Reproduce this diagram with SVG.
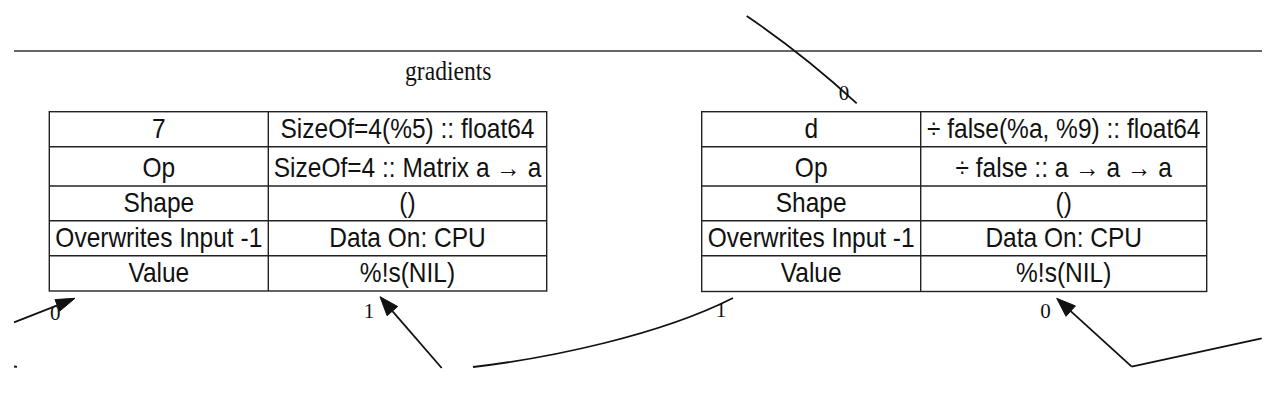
<svg xmlns="http://www.w3.org/2000/svg" width="1285" height="402" viewBox="0 0 1285 402">
  <defs>
    <style>
      .cell { fill: #ffffff; stroke: #222222; stroke-width: 1.4; }
      .sep { stroke: #222222; stroke-width: 1.4; }
      .t { font-family: "Liberation Sans", Arial, sans-serif; font-size: 24.5px; fill: #111111; text-anchor: middle; }
      .lbl { font-family: "Liberation Serif", "Times New Roman", serif; font-size: 21px; fill: #111111; text-anchor: middle; }
      .title { font-family: "Liberation Serif", "Times New Roman", serif; font-size: 23.6px; fill: #111111; text-anchor: middle; }
      .edge { fill: none; stroke: #111111; stroke-width: 1.8; }
      .head { fill: #111111; stroke: #111111; stroke-width: 1; }
      .frame { stroke: #333333; stroke-width: 1.6; }
    </style>
  </defs>
  <rect x="0" y="0" width="1285" height="402" fill="#ffffff"/>

  <g id="cluster-gradients">
    <line class="frame" x1="14" y1="51" x2="1262" y2="51"/>
    <text class="title" transform="translate(448.3,80) scale(1,1.12)">gradients</text>
  </g>

  <g id="node-7">
    <rect class="cell" x="49.3" y="111.7" width="497.4" height="179.3"/>
    <line class="sep" x1="268.3" y1="111.7" x2="268.3" y2="291"/>
    <line class="sep" x1="49.3" y1="146.7" x2="546.7" y2="146.7"/>
    <line class="sep" x1="49.3" y1="186" x2="546.7" y2="186"/>
    <line class="sep" x1="49.3" y1="220.7" x2="546.7" y2="220.7"/>
    <line class="sep" x1="49.3" y1="255.7" x2="546.7" y2="255.7" stroke-width="2"/>
    <text class="t" transform="translate(158.8,138.4) scale(1,1.1)">7</text>
    <text class="t" transform="translate(407.5,138.4) scale(1,1.1)">SizeOf=4(%5) :: float64</text>
    <text class="t" transform="translate(158.8,177) scale(1,1.1)">Op</text>
    <text class="t" transform="translate(407.5,177) scale(1,1.1)">SizeOf=4 :: Matrix a → a</text>
    <text class="t" transform="translate(158.8,211.8) scale(1,1.1)">Shape</text>
    <text class="t" transform="translate(407.5,211.8) scale(1,1.1)">()</text>
    <text class="t" transform="translate(158.8,247.3) scale(1,1.1)">Overwrites Input -1</text>
    <text class="t" transform="translate(407.5,247.3) scale(1,1.1)">Data On: CPU</text>
    <text class="t" transform="translate(158.8,281.8) scale(1,1.1)">Value</text>
    <text class="t" transform="translate(407.5,281.8) scale(1,1.1)">%!s(NIL)</text>
  </g>

  <g id="node-d">
    <rect class="cell" x="701.7" y="111.7" width="505" height="179.8"/>
    <line class="sep" x1="920.7" y1="111.7" x2="920.7" y2="291.5"/>
    <line class="sep" x1="701.7" y1="146.7" x2="1206.7" y2="146.7"/>
    <line class="sep" x1="701.7" y1="186" x2="1206.7" y2="186"/>
    <line class="sep" x1="701.7" y1="220.7" x2="1206.7" y2="220.7"/>
    <line class="sep" x1="701.7" y1="255.7" x2="1206.7" y2="255.7" stroke-width="2"/>
    <text class="t" transform="translate(811.2,138.4) scale(1,1.1)">d</text>
    <text class="t" transform="translate(1063.7,138.4) scale(1,1.1)">÷ false(%a, %9) :: float64</text>
    <text class="t" transform="translate(811.2,177) scale(1,1.1)">Op</text>
    <text class="t" transform="translate(1063.7,177) scale(1,1.1)">÷ false :: a → a → a</text>
    <text class="t" transform="translate(811.2,211.8) scale(1,1.1)">Shape</text>
    <text class="t" transform="translate(1063.7,211.8) scale(1,1.1)">()</text>
    <text class="t" transform="translate(811.2,247.3) scale(1,1.1)">Overwrites Input -1</text>
    <text class="t" transform="translate(1063.7,247.3) scale(1,1.1)">Data On: CPU</text>
    <text class="t" transform="translate(811.2,281.8) scale(1,1.1)">Value</text>
    <text class="t" transform="translate(1063.7,281.8) scale(1,1.1)">%!s(NIL)</text>
  </g>

  <g id="connectors">
    <!-- into node 7, port 0 -->
    <line class="edge" x1="14" y1="322.3" x2="57.3" y2="305.3"/>
    <polygon class="head" points="75,298.3 59.6,311.2 55,299.6"/>
    <text class="lbl" x="55.3" y="319.5">0</text>
    <line class="edge" x1="14" y1="366.5" x2="17" y2="366.8" stroke-width="1.2"/>

    <!-- into node 7, port 1 -->
    <line class="edge" x1="441.7" y1="368" x2="392.4" y2="311.1"/>
    <polygon class="head" points="380,296.7 397.7,306.5 387.1,315.7"/>
    <text class="lbl" x="369" y="318.3">1</text>

    <!-- curve toward node d, port 1 -->
    <path class="edge" d="M473,367 C550,358 660,335 733,298"/>
    <text class="lbl" x="721" y="317.3">1</text>

    <!-- top edge toward node d, port 0 -->
    <path class="edge" d="M746.7,16 Q803,54 856.7,103.3"/>
    <text class="lbl" x="844" y="100">0</text>

    <!-- into node d, port 0 -->
    <line class="edge" x1="1131.7" y1="366.7" x2="1070.7" y2="311.1"/>
    <polygon class="head" points="1056.7,298.3 1075.4,305.9 1066,316.3"/>
    <text class="lbl" x="1045.5" y="318.3">0</text>
    <line class="edge" x1="1131.7" y1="366.7" x2="1261.7" y2="338.3"/>
  </g>
</svg>
